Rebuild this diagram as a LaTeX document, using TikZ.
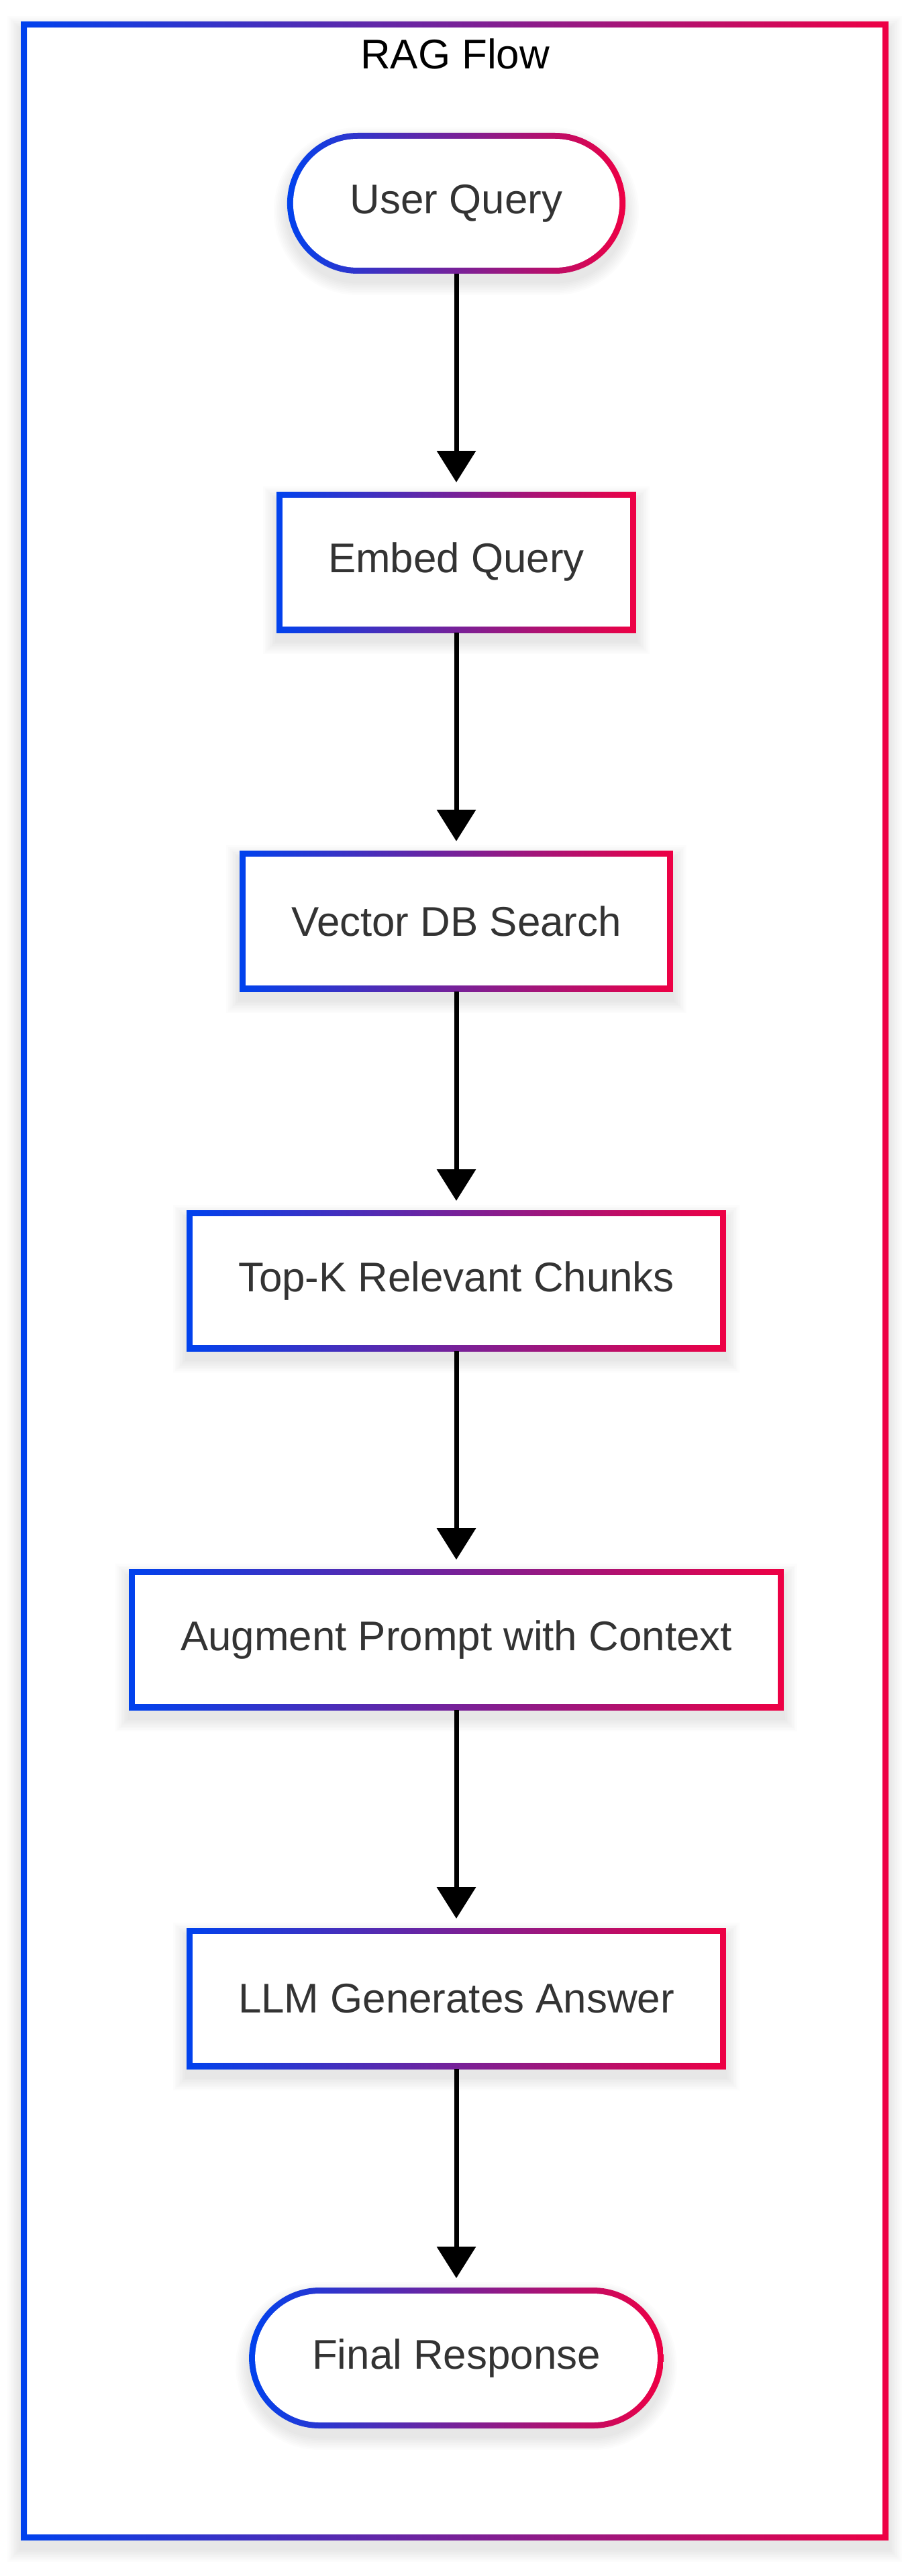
\documentclass[tikz,border=0pt]{standalone}
\usepackage{fontspec}
\setmainfont{Liberation Sans}
\usetikzlibrary{arrows.meta,backgrounds}
\definecolor{gblue}{RGB}{0,66,238}
\definecolor{gred}{RGB}{238,0,68}
\definecolor{txtgray}{HTML}{333333}

\begin{document}
\begin{tikzpicture}[every node/.style={font=\fontsize{17.6}{21}\selectfont}]
  \tikzstyle{ragbox}=[fill=white,text=txtgray,minimum height=1.92cm,inner xsep=0.68cm,outer sep=0.09cm]
  \tikzstyle{ragend}=[ragbox,rounded corners=0.96cm,inner xsep=0.85cm]
  \tikzstyle{ragflow}=[-{Triangle[width=0.57cm,length=0.47cm]},line width=0.07cm,shorten >=0.14cm]
  \tikzstyle{haze}=[black,opacity=0.011]
  \useasboundingbox (0,0) rectangle (13.64,-38.40);
  \node[anchor=base] (title) at (6.78,-1.03) {RAG Flow};
  \node[ragend] (query) at (6.80,-3.03) {User Query};
  \node[ragbox] (embed) at (6.80,-8.38) {Embed Query};
  \node[ragbox] (search) at (6.80,-13.73) {Vector DB Search};
  \node[ragbox] (topk) at (6.80,-19.09) {Top-K Relevant Chunks};
  \node[ragbox] (augment) at (6.80,-24.44) {Augment Prompt with Context};
  \node[ragbox] (llm) at (6.80,-29.79) {LLM Generates Answer};
  \node[ragend] (answer) at (6.80,-35.15) {Final Response};
  \draw[ragflow] (query) -- (embed);
  \draw[ragflow] (embed) -- (search);
  \draw[ragflow] (search) -- (topk);
  \draw[ragflow] (topk) -- (augment);
  \draw[ragflow] (augment) -- (llm);
  \draw[ragflow] (llm) -- (answer);
  % soft shadows and gradient outlines
  \begin{scope}[on background layer]
    \foreach \k in {1,...,8}
      \fill[haze,even odd rule] (0.31-\k*0.025,-0.44+\k*0.025) rectangle (13.24+\k*0.025,-37.99-\k*0.025) (0.31,-0.32) rectangle (13.24,-37.87);
    \shade[left color=gblue,right color=gred,even odd rule] (0.31,-0.32) rectangle (13.24,-37.87) (0.40,-0.41) rectangle (13.15,-37.78);
    \foreach \n in {embed,search,topk,augment,llm} {
      \foreach \k in {1,...,8}
        \fill[haze] ([shift={(-\k*0.025,\k*0.025-0.12)}]\n.north west) rectangle ([shift={(\k*0.025,-\k*0.025-0.12)}]\n.south east);
      \shade[left color=gblue,right color=gred] (\n.north west) rectangle (\n.south east);
    }
    \foreach \n in {query,answer} {
      \foreach \k in {1,...,8}
        \fill[haze,rounded corners=1.05cm+\k*0.25mm] ([shift={(-\k*0.025,\k*0.025-0.12)}]\n.north west) rectangle ([shift={(\k*0.025,-\k*0.025-0.12)}]\n.south east);
      \shade[left color=gblue,right color=gred,rounded corners=1.05cm] (\n.north west) rectangle (\n.south east);
    }
  \end{scope}
\end{tikzpicture}
\end{document}
